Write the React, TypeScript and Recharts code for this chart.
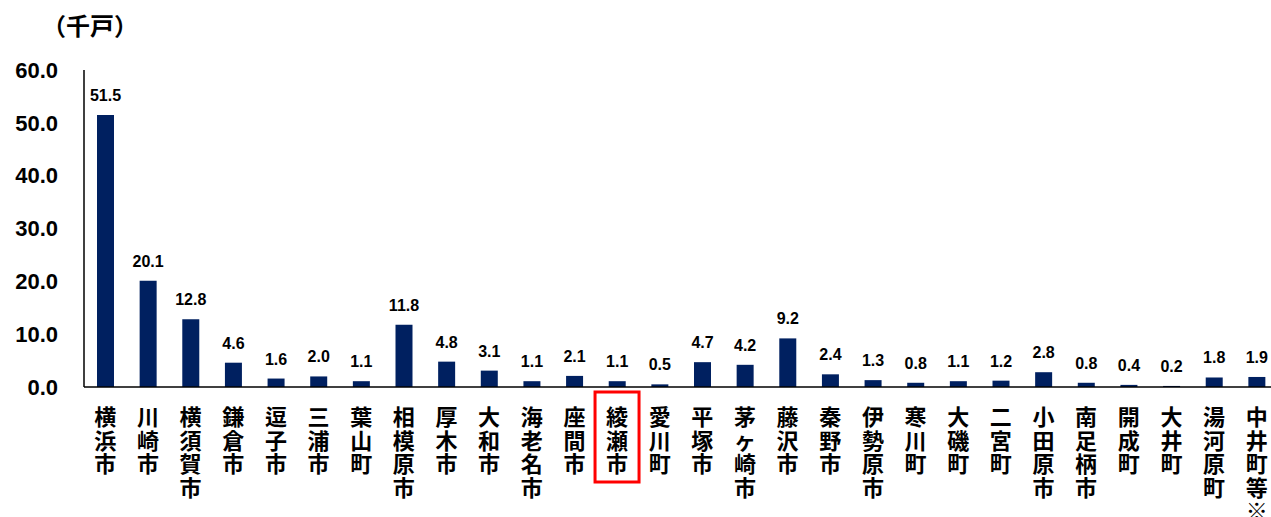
import React from "react";
import { BarChart, Bar, XAxis, YAxis, LabelList } from "recharts";

const cities = [
  "横浜市", "川崎市", "横須賀市", "鎌倉市", "逗子市", "三浦市", "葉山町",
  "相模原市", "厚木市", "大和市", "海老名市", "座間市", "綾瀬市", "愛川町",
  "平塚市", "茅ヶ崎市", "藤沢市", "秦野市", "伊勢原市", "寒川町", "大磯町",
  "二宮町", "小田原市", "南足柄市", "開成町", "大井町", "湯河原町", "中井町等※",
];

const households = [
  51.5, 20.1, 12.8, 4.6, 1.6, 2.0, 1.1,
  11.8, 4.8, 3.1, 1.1, 2.1, 1.1, 0.5,
  4.7, 4.2, 9.2, 2.4, 1.3, 0.8, 1.1,
  1.2, 2.8, 0.8, 0.4, 0.2, 1.8, 1.9,
];

const yTicks = [0, 10, 20, 30, 40, 50, 60];
const highlighted = "綾瀬市";

const data = cities.map((name, i) => ({ name, value: households[i] }));

const NAVY = "#002060";
const CJK = "'Noto Sans CJK JP', 'Noto Sans', sans-serif";
const NUM = "'Liberation Sans', Arial, sans-serif";

// one character per line, like Excel's stacked vertical text
function VerticalTick({ x, y, payload }: { x?: number; y?: number; payload?: { value: string } }) {
  const label = payload?.value ?? "";
  const chars = Array.from(label);
  const cx = x ?? 0;
  const top = y ?? 0;
  const pitch = 23.5;
  return (
    <g>
      {label === highlighted && (
        <rect
          x={cx - 22}
          y={top + 5}
          width={44}
          height={90}
          fill="none"
          stroke="#FF0000"
          strokeWidth={3}
        />
      )}
      <text
        x={cx}
        y={top + 28}
        textAnchor="middle"
        dominantBaseline="central"
        fontFamily={CJK}
        fontWeight={700}
        fontSize={22}
        fill="#000"
      >
        {chars.map((ch, i) => (
          <tspan key={i} x={cx} dy={i === 0 ? 0 : pitch}>
            {ch}
          </tspan>
        ))}
      </text>
    </g>
  );
}

export default function App() {
  return (
    <div
      style={{
        position: "absolute",
        left: 0,
        top: 0,
        width: 1271,
        height: 517,
        overflow: "hidden",
        background: "#fff",
      }}
    >
      <div
        style={{
          position: "absolute",
          left: 42,
          top: 9,
          fontFamily: CJK,
          fontWeight: 700,
          fontSize: 24,
          color: "#000",
          lineHeight: "32px",
        }}
      >
        （千戸）
      </div>
      <BarChart
        width={1300}
        height={517}
        data={data}
        margin={{ top: 70, right: 22, left: 0, bottom: 0 }}
      >
        <XAxis
          dataKey="name"
          interval={0}
          height={130}
          tickLine={false}
          tickSize={0}
          tickMargin={0}
          axisLine={{ stroke: "#000", strokeWidth: 1.5 }}
          tick={<VerticalTick />}
        />
        <YAxis
          width={84}
          domain={[0, 60]}
          ticks={yTicks}
          tickFormatter={(v: number) => v.toFixed(1)}
          tickLine={false}
          tickSize={0}
          tickMargin={26}
          axisLine={{ stroke: "#000", strokeWidth: 1.5 }}
          tick={{ fill: "#000", fontSize: 22, fontWeight: 700, fontFamily: NUM }}
        />
        <Bar dataKey="value" fill={NAVY} barSize={17} isAnimationActive={false}>
          <LabelList
            dataKey="value"
            position="top"
            offset={14}
            formatter={(v: number) => v.toFixed(1)}
            style={{ fill: "#000", fontSize: 16, fontWeight: 700, fontFamily: NUM }}
          />
        </Bar>
      </BarChart>
    </div>
  );
}
